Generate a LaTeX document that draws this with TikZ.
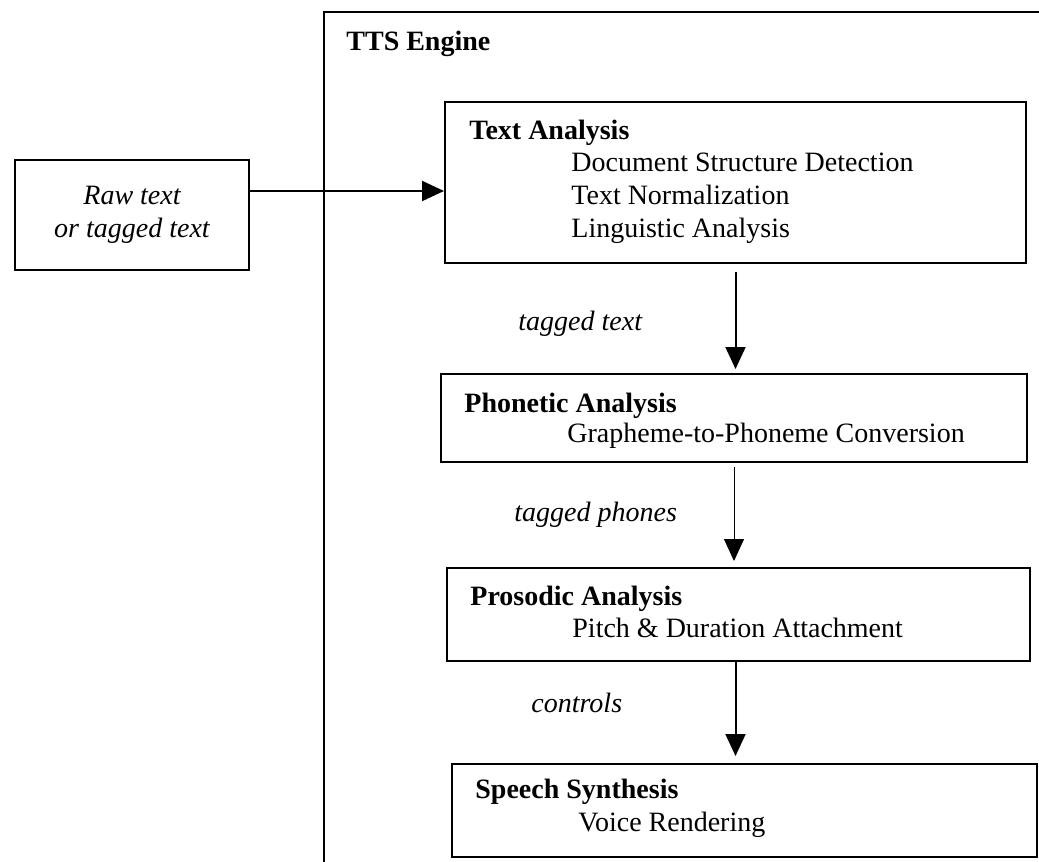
\documentclass[tikz,border=0pt]{standalone}
\usepackage{fontspec}
\setmainfont{Liberation Serif}
\usetikzlibrary{arrows.meta}
\tikzset{
  box/.style 2 args={draw, line width=1pt, inner sep=0pt, minimum width=#1*0.5pt, minimum height=#2*0.5pt},
  lbl/.style={anchor=base west, inner sep=0pt},
  ttl/.style={lbl, font=\fontsize{14pt}{16.5pt}\selectfont\bfseries},
  flow/.style={lbl, font=\fontsize{14pt}{16.5pt}\selectfont\itshape}
}
\begin{document}
\begin{tikzpicture}[x=0.5pt,y=-0.5pt,>={Triangle[length=11pt,width=10pt]}, font=\fontsize{14pt}{16.5pt}\selectfont, line join=miter]
\useasboundingbox (0,0) rectangle (1039,862);
% engine frame
\draw[line width=0.9pt] (324,862)--(324,12)--(1039,12);
\node[ttl] (engine) at (346,50) {TTS Engine};
% input
\node[box={234}{110}, align=center, font=\fontsize{14pt}{16.5pt}\selectfont\itshape] (raw) at (132,215) {Raw text\\or tagged text};
% stages
\node[box={581}{161}] (ta) at (735.5,182.5) {};
\node[ttl] (tat) at (469,139) {Text Analysis};
\foreach \t [count=\i] in {Document Structure Detection, Text Normalization, Linguistic Analysis}
  \node[lbl] (ta\i) at (571,{171+33*(\i-1)}) {\t};
\node[box={586}{88}] (pa) at (734,418) {};
\node[ttl] (pat) at (464,412) {Phonetic Analysis};
\node[lbl] (pa1) at (567,442) {Grapheme-to-Phoneme Conversion};
\node[box={583}{93}] (pr) at (738.5,614.5) {};
\node[ttl] (prt) at (470,605) {Prosodic Analysis};
\node[lbl] (pr1) at (572,637) {Pitch \& Duration Attachment};
\node[box={585}{93}] (ss) at (744.5,810.5) {};
\node[ttl] (sst) at (475,798) {Speech Synthesis};
\node[lbl] (ss1) at (578,831) {Voice Rendering};
% connectors
\draw[->,line width=1pt] ([yshift=12pt]raw.east)--([yshift=12pt]raw.east -| ta.west);
\draw[->,line width=1pt,shorten <=4pt,shorten >=2pt] (ta.south)--(ta.south |- pa.north);
\draw[->,line width=0.5pt,shorten <=2pt,shorten >=3pt] (pa.south)--(pa.south |- pr.north);
\draw[->,line width=1pt,shorten >=3.5pt] (pr.south -| ta.south)--(ss.north -| ta.south);
\node[flow] (l1) at (518,330) {tagged text};
\node[flow] (l2) at (514,521) {tagged phones};
\node[flow] (l3) at (531,712) {controls};
\end{tikzpicture}
\end{document}
